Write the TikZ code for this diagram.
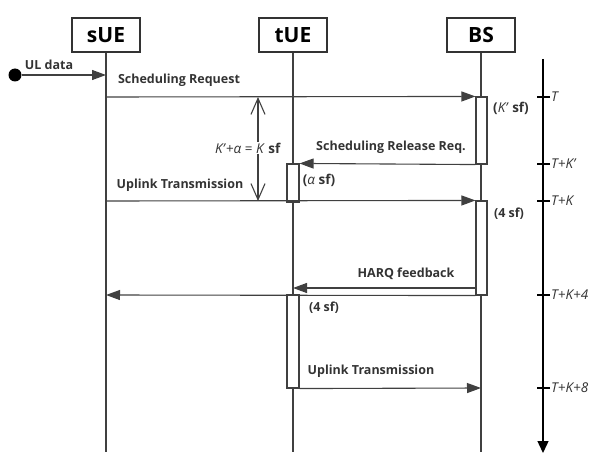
\documentclass[tikz,border=0pt]{standalone}
\usepackage{fontspec}
\setmainfont{Open Sans}
\usetikzlibrary{arrows.meta}
\begin{document}
\begin{tikzpicture}[x=1pt,y=-1pt,
  ln/.style={draw=black!75, line width=1.1pt},
  hdr/.style={draw=black!80, line width=1.4pt, minimum width=68pt, minimum height=34pt, inner sep=0pt,
    font=\bfseries\fontsize{21}{22}\selectfont},
  act/.style={draw=black!75, fill=white, line width=1.1pt, minimum width=11pt, inner sep=0pt},
  msg/.style={ln, -{Triangle[length=14pt,width=10pt]}},
  lbl/.style={inner sep=1pt, font=\bfseries\fontsize{12.5}{14}\selectfont, text=black!80},
  mlbl/.style={inner sep=1pt, font=\fontsize{13.5}{15}\selectfont, text=black!80},
  tlbl/.style={anchor=west, inner sep=1pt, font=\itshape\fontsize{13.5}{15}\selectfont, text=black!80},
  tick/.style={line width=1.1pt, draw=black}
]
\useasboundingbox (0,0) rectangle (595,468);

% headers and lifelines
\node[hdr] (sue) at (106,35) {sUE};
\node[hdr] (tue) at (293,35) {tUE};
\node[hdr] (bs)  at (481,35) {BS};
\coordinate (sueE) at (106,452);
\coordinate (tueE) at (293,452);
\coordinate (bsE)  at (481,452);
\draw[ln] (sue) -- (sueE);
\draw[ln] (tue) -- (tueE);
\draw[ln] (bs) -- (bsE);

% activation boxes
\node[act, minimum height=67pt] (bs1) at (481.5,130.5) {};
\node[act, minimum width=12pt, minimum height=38pt] (tue1) at (293,183) {};
\node[act, minimum height=94pt] (bs2) at (481.5,248) {};
\node[act, minimum width=12pt, minimum height=93pt] (tue2) at (293,341.5) {};

% UL data
\node[circle, fill=black, inner sep=0pt, minimum size=13pt] (dot) at (15,75) {};
\coordinate (sueUL) at (106,75);
\draw[msg] (dot) -- (sueUL);
\node[lbl] (ul) at (49,65) {UL data};

% Scheduling Request
\coordinate (sr0) at (106,97);
\draw[msg] (sr0) -- (bs1.north west);
\node[lbl] (srl) at (179,80) {Scheduling Request};
\node[mlbl] (kps) at (511,108) {\textbf{(}\textit{K'} \textbf{sf)}};

% Scheduling Release Req.
\draw[msg] (bs1.south west) -- (tue1.north east);
\node[lbl] (srr) at (391,147) {Scheduling Release Req.};
\node[mlbl] (als) at (319,180) {\textbf{(}\textit{α} \textbf{sf)}};

% Uplink Transmission 1
\coordinate (ut0) at (106,201);
\draw[msg] (ut0) -- (bs2.north west);
\node[lbl] (utl1) at (180,185) {Uplink Transmission};
\node[lbl] (fs1) at (509,214) {(4 sf)};

% K' + alpha = K sf
\coordinate (ka) at (258,97);
\coordinate (kb) at (258,201);
\draw[ln, {Straight Barb[length=16pt,width=14pt]}-{Straight Barb[length=16pt,width=14pt]}] (ka) -- (kb);
\node[mlbl, fill=white] (keq) at (248,148) {\textit{K'}+\textit{α} = \textit{K} \textbf{sf}};

% HARQ feedback
\coordinate (h0) at (476,288);
\coordinate (h1) at (293,288);
\draw[msg] (h0) -- (h1);
\node[lbl] (harq) at (406,274) {HARQ feedback};
\coordinate (s4) at (106,295);
\draw[msg] (bs2.south west) -- (s4);
\node[lbl] (fs2) at (324,308) {(4 sf)};

% Uplink Transmission 2
\coordinate (u2) at (481,388);
\draw[msg] (tue2.south east) -- (u2);
\node[lbl] (utl2) at (371,371) {Uplink Transmission};

% time axis
\coordinate (ax0) at (543,59);
\coordinate (ax1) at (543,453);
\draw[draw=black, line width=1.4pt, -{Triangle[length=12pt,width=11pt]}] (ax0) -- (ax1);
\foreach \yy/\nm/\tx in {97/t0/T, 164/t1/T+K', 201/t2/T+K, 295/t3/T+K+4, 388/t4/T+K+8}{
  \draw[tick] (537,\yy) -- (550,\yy);
  \node[tlbl] (\nm) at (550,\yy) {\tx};
}
\end{tikzpicture}
\end{document}
